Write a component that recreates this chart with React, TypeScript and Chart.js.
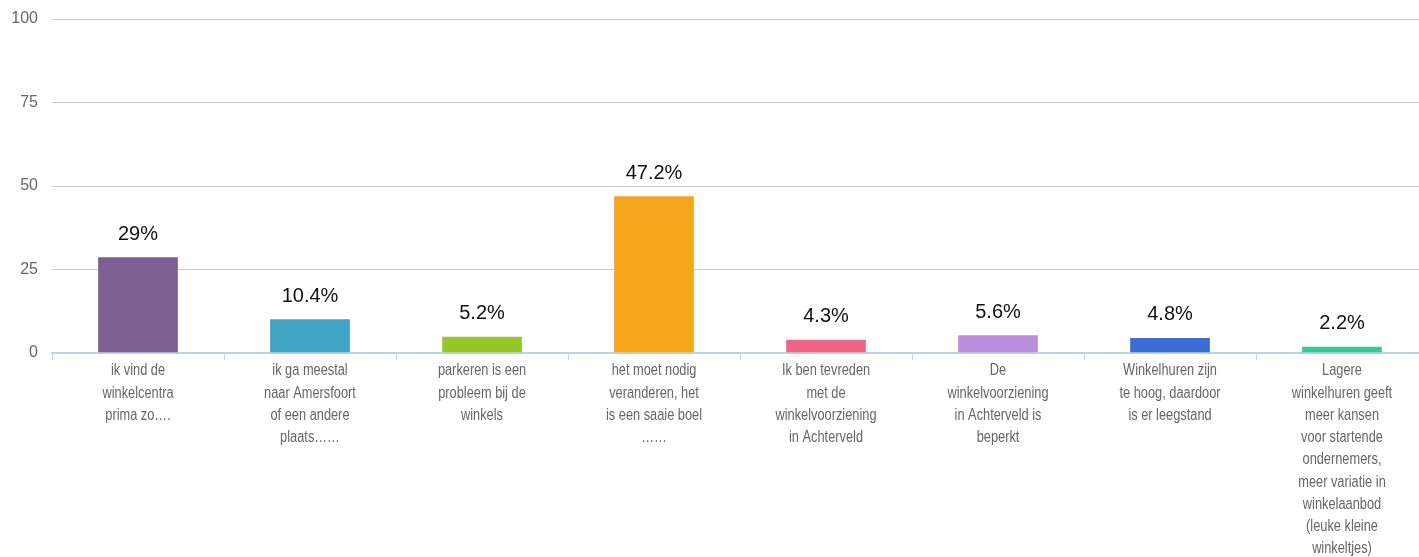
import React, { useEffect, useRef } from "react";
import { Chart, registerables } from "chart.js";

Chart.register(...registerables);

const categories: string[][] = [
  ["ik vind de", "winkelcentra", "prima zo…."],
  ["ik ga meestal", "naar Amersfoort", "of een andere", "plaats……"],
  ["parkeren is een", "probleem bij de", "winkels"],
  ["het moet nodig", "veranderen, het", "is een saaie boel", "……"],
  ["Ik ben tevreden", "met de", "winkelvoorziening", "in Achterveld"],
  ["De", "winkelvoorziening", "in Achterveld is", "beperkt"],
  ["Winkelhuren zijn", "te hoog, daardoor", "is er leegstand"],
  ["Lagere", "winkelhuren geeft", "meer kansen", "voor startende", "ondernemers,", "meer variatie in", "winkelaanbod", "(leuke kleine", "winkeltjes)"],
];
const values: number[] = [29, 10.4, 5.2, 47.2, 4.3, 5.6, 4.8, 2.2];
const valueLabels: string[] = ["29%", "10.4%", "5.2%", "47.2%", "4.3%", "5.6%", "4.8%", "2.2%"];
const barColors: string[] = ["#7c5f93", "#41a3c3", "#95c726", "#f4a51c", "#f06586", "#bc8fde", "#3b6dd3", "#2fcc99"];
const yTicks: number[] = [0, 25, 50, 75, 100];

const valueLabelPlugin = {
  id: "valueLabels",
  afterDatasetsDraw(chart: any) {
    const ctx = chart.ctx;
    const meta = chart.getDatasetMeta(0);
    ctx.save();
    ctx.font = '20px "Liberation Sans", Arial, sans-serif';
    ctx.fillStyle = "#111";
    ctx.textAlign = "center";
    ctx.textBaseline = "middle";
    meta.data.forEach((bar: any, i: number) => {
      ctx.fillText(valueLabels[i], bar.x, bar.y - 22);
    });
    ctx.restore();
  },
};

// Category labels drawn with a horizontally condensed face (the original uses a narrow font)
const categoryLabelPlugin = {
  id: "categoryLabels",
  afterDraw(chart: any) {
    const ctx = chart.ctx;
    const xScale = chart.scales.x;
    const squeeze = 0.8;
    const lineH = 22.25;
    const firstY = xScale.top + 18;
    ctx.save();
    ctx.font = '16px "Liberation Sans", Arial, sans-serif';
    ctx.fillStyle = "#666";
    ctx.textAlign = "center";
    ctx.textBaseline = "middle";
    categories.forEach((lines, i) => {
      const cx = xScale.getPixelForTick(i);
      lines.forEach((line, j) => {
        ctx.save();
        ctx.translate(cx, firstY + j * lineH);
        ctx.scale(squeeze, 1);
        ctx.fillText(line, 0, 0);
        ctx.restore();
      });
    });
    ctx.restore();
  },
};

export default function App() {
  const ref = useRef<HTMLCanvasElement | null>(null);
  useEffect(() => {
    if (!ref.current) return;
    const chart = new Chart(ref.current, {
      type: "bar",
      data: {
        labels: categories,
        datasets: [
          {
            data: values,
            backgroundColor: barColors,
            borderColor: "rgba(255,255,255,0.5)",
            borderWidth: 1,
            barPercentage: 0.475,
            categoryPercentage: 1,
          },
        ],
      },
      options: {
        animation: false,
        responsive: false,
        layout: { padding: { top: 19, right: 2, left: 0, bottom: 0 } },
        plugins: {
          legend: { display: false },
          tooltip: { enabled: false },
        },
        scales: {
          x: {
            afterFit: (scale: any) => {
              scale.height = 204;
              scale.paddingTop = 0;
              scale.paddingBottom = 0;
            },
            grid: {
              drawOnChartArea: false,
              drawTicks: true,
              tickLength: 7,
              color: "#c6d4e4",
              offset: true,
            },
            border: { display: true, color: "#c0d0e0", width: 2 },
            ticks: {
              display: false,
              autoSkip: false,
              maxRotation: 0,
              minRotation: 0,
            },
          },
          y: {
            min: 0,
            max: 100,
            afterFit: (scale: any) => {
              scale.width = 52;
              scale.paddingTop = 0;
              scale.paddingBottom = 0;
            },
            afterBuildTicks: (scale: any) => {
              scale.ticks = yTicks.map((v) => ({ value: v }));
            },
            grid: { color: "#cacaca", drawTicks: false, lineWidth: 1 },
            border: { display: false },
            ticks: {
              color: "#666",
              padding: 14,
              font: { family: '"Liberation Sans", Arial, sans-serif', size: 16 },
            },
          },
        },
      },
      plugins: [valueLabelPlugin, categoryLabelPlugin],
    });
    return () => chart.destroy();
  }, []);
  return (
    <div style={{ position: "fixed", left: 0, top: 0, width: 1419, height: 557, overflow: "hidden", background: "#fff" }}>
      <canvas ref={ref} width={1430} height={557} style={{ display: "block", width: 1430, height: 557 }} />
    </div>
  );
}
